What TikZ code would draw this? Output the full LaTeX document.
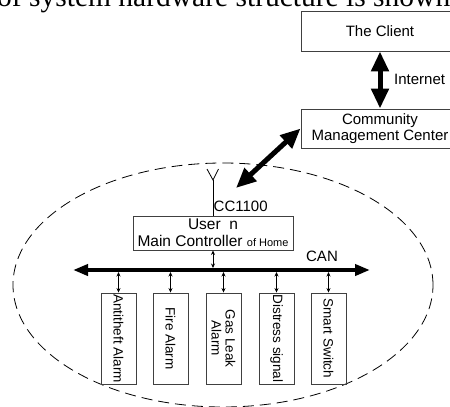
\documentclass[tikz,border=0pt]{standalone}
\usepackage{fontspec}
\setmainfont{Liberation Sans}
\newfontfamily\serifface{Liberation Serif}
\usetikzlibrary{arrows.meta,shapes.geometric}

\tikzset{
  box/.style={draw=black!75, line width=0.9pt, align=center, inner sep=0pt,
    font=\fontsize{15}{16}\selectfont},
  devbox/.style={draw=black!75, line width=0.9pt, align=center, inner sep=0pt,
    rotate=-90, minimum width=91pt, minimum height=35pt,
    font=\fontsize{13.5}{14}\selectfont},
  lbl/.style={inner sep=0pt, font=\fontsize{15}{16}\selectfont},
  bigarrow/.style={line width=5pt,
    {Triangle[length=20pt,width=17pt]}-{Triangle[length=20pt,width=17pt]}},
  busarrow/.style={line width=4pt,
    {Triangle[length=15pt,width=11pt]}-{Triangle[length=15pt,width=11pt]}},
  smallarrow/.style={line width=0.8pt,
    {Stealth[length=4.5pt,width=4pt]}-{Stealth[length=4.5pt,width=4pt]}},
  zone/.style={dashed, dash pattern=on 11pt off 6pt, line width=0.8pt},
}

\begin{document}
\begin{tikzpicture}[x=1pt, y=-1pt]
  \useasboundingbox (0,0) rectangle (450,407);
  \clip (0,0) rectangle (450,407);

  % running text line above the figure
  \node[anchor=base west, inner sep=0pt, font=\fontsize{29.5}{30}\serifface]
    (caption) at (-3,6.5) {of system hardware structure is shown};

  % remote side
  \node[box, minimum width=158pt, minimum height=40pt] (client) at (380,31) {The Client};
  \node[box, minimum width=158pt, minimum height=39pt] (center) at (380,128.5)
    {Community\\Management Center};
  \draw[bigarrow] (client.south) -- (center.north);
  \node[lbl, anchor=west] (inet) at (394,79) {Internet};

  % home network boundary
  \node[zone, draw, ellipse, minimum width=420pt, minimum height=244pt, inner sep=0pt]
    (home) at (223,285) {};

  % main controller with radio module
  \node[box, minimum width=160pt, minimum height=34pt,
        font=\fontsize{15.5}{17}\selectfont] (main) at (213,233)
    {User~~n\\Main Controller {\fontsize{11}{12}\selectfont of Home}};
  \coordinate (apex) at (213,180);
  \coordinate (antL) at (207,169);
  \coordinate (antR) at (218.5,169);
  \draw[line width=0.8pt] (antL) -- (apex) -- (antR);
  \draw[line width=0.8pt] (apex) -- (main.north);
  \node[lbl, anchor=west] (cc) at (213.5,206) {CC1100};
  \coordinate (rf) at (236,188);
  \draw[bigarrow] (center.west) -- (rf);

  % CAN bus
  \coordinate (busL) at (73,270);
  \coordinate (busR) at (370,270);
  \draw[busarrow] (busL) -- (busR);
  \node[lbl] (can) at (322,256) {CAN};
  \coordinate (mainbus) at (213,268);
  \draw[smallarrow] (main.south) -- (mainbus);
  \coordinate (tap) at (0,272);

  % field devices
  \node[devbox] (d1) at (118.5,338.5) {Antitheft Alarm};
  \node[devbox] (d2) at (170.5,338.5) {Fire Alarm};
  \node[devbox] (d3) at (223.5,338.5) {Gas Leak\\Alarm};
  \node[devbox] (d4) at (276.5,338.5) {Distress signal};
  \node[devbox] (d5) at (328.5,338.5) {Smart Switch};
  \foreach \d in {d1,d2,d3,d4,d5}{
    \draw[smallarrow] (\d.west |- tap) -- (\d.west);
  }
\end{tikzpicture}
\end{document}
